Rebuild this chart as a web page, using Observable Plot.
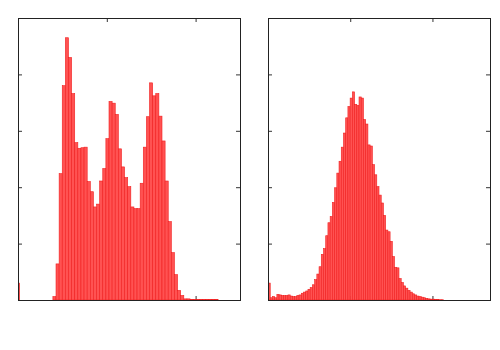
<!DOCTYPE html>
<html>
<head>
<meta charset="utf-8">
<script src="https://cdn.jsdelivr.net/npm/d3@7"></script>
<script src="https://cdn.jsdelivr.net/npm/@observablehq/plot@0.6"></script>
<style>
  html, body { margin: 0; padding: 0; background: #fff; }
  #wrap { display: flex; width: 500px; height: 350px; }
</style>
</head>
<body>
<div id="wrap"></div>
<script>
// ---- Data ----
// Left panel: histogram, bins start at leftStart with width leftBin
const leftStart = 0.393;
const leftBin = 0.0351;
const leftCounts = [
  0.06, 0.64, 2.24, 3.80, 4.65, 4.30, 3.66, 2.79, 2.69, 2.70,
  2.71, 2.10, 1.92, 1.65, 1.70, 2.11, 2.33, 2.86, 3.52, 3.49,
  3.29, 2.68, 2.36, 2.17, 2.01, 1.65, 1.62, 1.62, 2.07, 2.71,
  3.25, 3.85, 3.62, 3.66, 3.26, 2.82, 2.11, 1.39, 0.84, 0.45,
  0.17, 0.08, 0.02, 0.02, 0.01, 0.008, 0.008, 0.008, 0.008, 0.008,
  0.008, 0.008, 0.008
];
// narrow bin at the left edge of the left panel
const leftEdgeBin = { x1: 0, x2: 0.018, value: 0.30 };

// Right panel: histogram, bins start at rightStart with width rightBin
const rightStart = 0;
const rightBin = 0.027;
const rightCounts = [
  0.30, 0.04, 0.06, 0.04, 0.10, 0.09, 0.08, 0.08, 0.08, 0.09,
  0.07, 0.06, 0.06, 0.08, 0.09, 0.12, 0.14, 0.16, 0.19, 0.22,
  0.27, 0.36, 0.46, 0.59, 0.81, 0.91, 1.14, 1.37, 1.48, 1.73,
  1.99, 2.25, 2.46, 2.71, 2.96, 3.23, 3.43, 3.58, 3.69, 3.47,
  3.45, 3.60, 3.58, 3.20, 3.12, 2.75, 2.73, 2.40, 2.22, 2.01,
  1.86, 1.72, 1.50, 1.24, 1.21, 1.04, 0.77, 0.58, 0.57, 0.38,
  0.31, 0.25, 0.21, 0.17, 0.14, 0.11, 0.09, 0.07, 0.06, 0.05,
  0.04, 0.03, 0.02, 0.015, 0.015, 0.01, 0.01, 0.005, 0.005
];

// Axes
const leftDomain = [0, 2.5];
const rightDomain = [0, 2.7];
const yDomain = [0, 5];
const xTicks = [1, 2];
const yTicks = [1, 2, 3, 4];

// ---- Drawing ----
const W = 250, H = 350;
const mL = 18, mR = 10, mT = 18, mB = 50;
const innerW = W - mL - mR, innerH = H - mT - mB;
const tickLen = 4;

function panel(bins, domain) {
  return Plot.plot({
    width: W, height: H,
    marginLeft: mL, marginRight: mR, marginTop: mT, marginBottom: mB,
    style: { background: "white", overflow: "visible" },
    x: { domain, axis: null },
    y: { domain: yDomain, axis: null },
    marks: [
      // inward ticks on all four sides
      Plot.tickX(xTicks, { x: d => d, insetTop: innerH - tickLen, stroke: "#333" }),
      Plot.tickX(xTicks, { x: d => d, insetBottom: innerH - tickLen, stroke: "#333" }),
      Plot.tickY(yTicks, { y: d => d, insetRight: innerW - tickLen, stroke: "#333" }),
      Plot.tickY(yTicks, { y: d => d, insetLeft: innerW - tickLen, stroke: "#333" }),
      Plot.rectY(bins, {
        x1: "x1", x2: "x2", y: "value",
        fill: "#ff5252", stroke: "#f01e1e", strokeWidth: 0.6, clip: true
      }),
      Plot.frame({ stroke: "#222" })
    ]
  });
}

const leftData = [leftEdgeBin].concat(leftCounts.map((v, i) => ({
  x1: leftStart + i * leftBin, x2: leftStart + (i + 1) * leftBin, value: v
})));
const rightData = rightCounts.map((v, i) => ({
  x1: rightStart + i * rightBin, x2: rightStart + (i + 1) * rightBin, value: v
}));

const wrap = document.getElementById("wrap");
wrap.appendChild(panel(leftData, leftDomain));
wrap.appendChild(panel(rightData, rightDomain));
</script>
</body>
</html>
